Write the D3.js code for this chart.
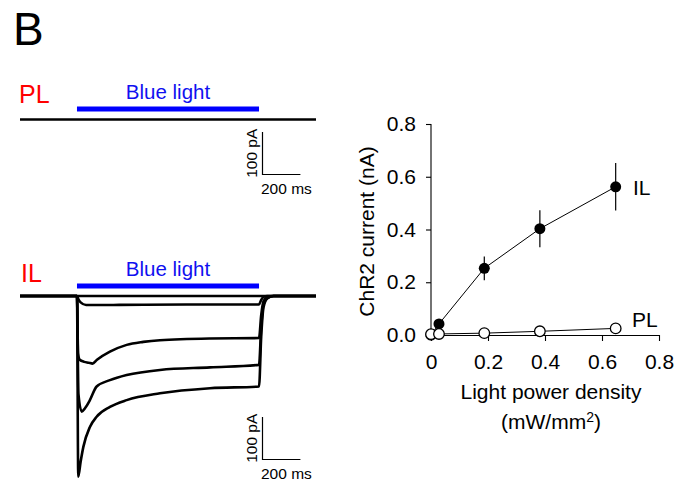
<!DOCTYPE html>
<html>
<head>
<meta charset="utf-8">
<script src="https://cdn.jsdelivr.net/npm/d3@7"></script>
<style>
  body { margin: 0; background: #fff; }
  svg { display: block; font-family: "Liberation Sans", Arial, sans-serif; }
</style>
</head>
<body>
<div id="fig"></div>
<script>
// ---- data: dose-response (right panel) ----
const powers = [0, 0.028, 0.187, 0.382, 0.648];          // mW/mm2
const ilMean = [0.0, 0.042, 0.253, 0.403, 0.562];        // nA
const ilErr = [0, 0, 0.045, 0.07, 0.09];
const plMean = [0.003, 0.004, 0.007, 0.014, 0.025];
const yTicks = [0, 0.2, 0.4, 0.6, 0.8];
const xTicks = [0, 0.2, 0.4, 0.6, 0.8];

// ---- data: example traces, [time ms, current pA] (left panels) ----
const lightOn = 0, lightOff = 1000;
const plTrace = [[-313, 0], [0, 0], [500, 0], [1000, 0], [1313, 0]];
const ilTrace0 = [[-313, 0], [0, 0], [1000, 0], [1313, 0]];
const ilTrace1 = [[-313, 0], [0, 0], [8, -8], [20, -15], [50, -21], [200, -21], [600, -20], [1000, -20], [1012, -9], [1025, -2], [1045, 0], [1313, 0]];
const ilTrace2 = [[-313, 0], [0, 0], [6, -135], [15, -150], [40, -155], [65, -157], [85, -159], [110, -150], [181, -131], [273, -115], [364, -108], [456, -104], [731, -100], [1000, -99], [1012, -45], [1025, -12], [1045, -3], [1080, 0], [1313, 0]];
const ilTrace3 = [[-313, 0], [0, 0], [8, -230], [26, -272], [44, -264], [71, -245], [108, -213], [181, -198], [273, -186], [456, -174], [731, -168], [1000, -162], [1012, -73], [1025, -19], [1045, -5], [1080, 0], [1313, 0]];
const ilTrace4 = [[-313, 0], [0, 0], [7, -425], [20, -390], [35, -355], [71, -308], [108, -284], [181, -261], [273, -245], [456, -229], [731, -217], [1000, -213], [1012, -96], [1025, -26], [1045, -6], [1080, 0], [1313, 0]];
const scaleBarMs = 200, scaleBarPa = 100;

const W = 691, H = 482;
const svg = d3.select('#fig').append('svg')
    .attr('width', W)
    .attr('height', H);

svg.append('text')
    .attr('x', 13)
    .attr('y', 45)
    .attr('font-size', 46)
    .text('B');

// time scale shared by both trace panels
const x = d3.scaleLinear().domain([-313, 1313]).range([20, 316]);

function tracePanel(opts) {
    const y = d3.scaleLinear().domain([0, -100]).range([opts.base, opts.base + 42.5]);
    const g = svg.append('g');

    g.append('text')
        .attr('x', opts.labelX)
        .attr('y', opts.labelY)
        .attr('font-size', 25)
        .attr('fill', '#f00')
        .text(opts.name);

    g.append('text')
        .attr('x', (x(lightOn) + x(lightOff)) / 2)
        .attr('y', opts.barY - 10)
        .attr('text-anchor', 'middle')
        .attr('font-size', 20.5)
        .attr('fill', '#1010f0')
        .text('Blue light');

    g.append('line')
        .attr('x1', x(lightOn)).attr('x2', x(lightOff))
        .attr('y1', opts.barY).attr('y2', opts.barY)
        .attr('stroke', '#0000ff')
        .attr('stroke-width', 5);

    const line = d3.line()
        .x(d => x(d[0]))
        .y(d => y(d[1]))
        .curve(d3.curveMonotoneX);

    g.selectAll('path.trace')
        .data(opts.traces)
        .enter().append('path')
        .attr('class', 'trace')
        .attr('d', line)
        .attr('fill', 'none')
        .attr('stroke', '#000')
        .attr('stroke-width', 2.6)
        .attr('stroke-linejoin', 'round');

    // scale bar
    const sx = 262.5, sy = opts.sbY;
    const sbW = x(scaleBarMs) - x(0);
    const sbH = y(-scaleBarPa) - y(0);
    g.append('path')
        .attr('d', `M${sx},${sy - sbH}V${sy}H${sx + sbW + 1.5}`)
        .attr('fill', 'none')
        .attr('stroke', '#000')
        .attr('stroke-width', 1.2);
    g.append('text')
        .attr('x', 261)
        .attr('y', sy + 19)
        .attr('font-size', 15.5)
        .text(scaleBarMs + ' ms');
    g.append('text')
        .attr('transform', `translate(257,${sy - sbH / 2}) rotate(-90)`)
        .attr('text-anchor', 'middle')
        .attr('font-size', 15.5)
        .text(scaleBarPa + ' pA');
}

tracePanel({name: 'PL', labelX: 19, labelY: 103, barY: 109, base: 119.5, sbY: 174.5, traces: [plTrace]});
tracePanel({name: 'IL', labelX: 21, labelY: 282, barY: 286, base: 296, sbY: 459.5,
    traces: [ilTrace0, ilTrace1, ilTrace2, ilTrace3, ilTrace4]});

// ---- dose-response plot ----
const px = d3.scaleLinear().domain([0, 0.8]).range([431, 659]);
const py = d3.scaleLinear().domain([0, 0.8]).range([335, 124]);
const plot = svg.append('g');

plot.append('g')
    .attr('transform', 'translate(431,0)')
    .call(d3.axisLeft(py).tickValues(yTicks).tickFormat(d3.format('.1f')).tickSize(5).tickPadding(10).tickSizeOuter(0))
    .call(a => a.select('.domain').attr('d', `M0,${py(0)}V${py(0.8)}`));

plot.append('g')
    .attr('transform', `translate(0,${py(0)})`)
    .call(d3.axisBottom(px).tickValues(xTicks).tickFormat(d => d === 0 ? '0' : d3.format('.1f')(d)).tickSize(6).tickPadding(13).tickSizeOuter(0));

plot.selectAll('.tick text')
    .attr('font-family', '"Liberation Sans", Arial, sans-serif')
    .attr('font-size', 21)
    .attr('fill', '#000');
plot.selectAll('.domain, .tick line').attr('stroke', '#000').attr('stroke-width', 1.1);

plot.append('text')
    .attr('transform', `translate(374,${(py(0) + py(0.8)) / 2 + 2}) rotate(-90)`)
    .attr('text-anchor', 'middle')
    .attr('font-size', 21)
    .text('ChR2 current (nA)');

plot.append('text')
    .attr('x', 551)
    .attr('y', 399)
    .attr('text-anchor', 'middle')
    .attr('font-size', 21)
    .text('Light power density');

const unit = plot.append('text')
    .attr('x', 551)
    .attr('y', 429)
    .attr('text-anchor', 'middle')
    .attr('font-size', 21)
    .text('(mW/mm');
unit.append('tspan').attr('font-size', 14).attr('dy', -7).text('2');
unit.append('tspan').attr('dy', 7).text(')');

const il = powers.map((p, i) => ({x: p, y: ilMean[i], e: ilErr[i]}));
const pl = powers.map((p, i) => ({x: p, y: plMean[i]}));
const ln = d3.line().x(d => px(d.x)).y(d => py(d.y));

plot.append('path').attr('d', ln(il)).attr('fill', 'none').attr('stroke', '#000').attr('stroke-width', 1);
plot.append('path').attr('d', ln(pl)).attr('fill', 'none').attr('stroke', '#000').attr('stroke-width', 1);

plot.selectAll('line.err')
    .data(il.filter(d => d.e > 0))
    .enter().append('line')
    .attr('class', 'err')
    .attr('x1', d => px(d.x)).attr('x2', d => px(d.x))
    .attr('y1', d => py(d.y - d.e)).attr('y2', d => py(d.y + d.e))
    .attr('stroke', '#000')
    .attr('stroke-width', 1.2);

plot.selectAll('circle.il')
    .data(il)
    .enter().append('circle')
    .attr('class', 'il')
    .attr('cx', d => px(d.x))
    .attr('cy', d => py(d.y))
    .attr('r', 5.5)
    .attr('fill', '#000');

plot.selectAll('circle.pl')
    .data(pl)
    .enter().append('circle')
    .attr('class', 'pl')
    .attr('cx', d => px(d.x))
    .attr('cy', d => py(d.y))
    .attr('r', 5.3)
    .attr('fill', '#fff')
    .attr('stroke', '#000')
    .attr('stroke-width', 1.3);

plot.append('text').attr('x', 633).attr('y', 195).attr('font-size', 21).text('IL');
plot.append('text').attr('x', 632).attr('y', 327).attr('font-size', 21).text('PL');
</script>
</body>
</html>
